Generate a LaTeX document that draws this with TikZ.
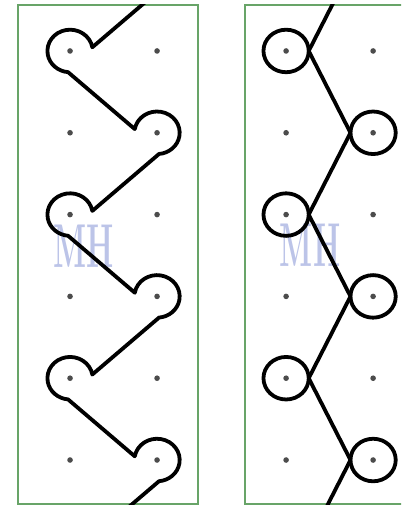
\documentclass[tikz,border=0pt]{standalone}
\usepackage{xcolor}
\usetikzlibrary{calc}
\definecolor{panelgreen}{RGB}{104,164,104}
\definecolor{markblue}{RGB}{188,196,232}
\tikzset{
  rope/.style={line width=3.8pt, line join=round, line cap=round},
  peg/.style={fill=black!70},
  panel/.style={draw=panelgreen, line width=2.2pt},
  watermark/.style={text=markblue, inner sep=0pt, xscale=0.5, font=\fontsize{62}{62}\selectfont\bfseries},
}

\begin{document}
\begin{tikzpicture}[x=87pt, y=81.8pt]
\useasboundingbox (-0.805,0.623) rectangle (3.805,-5.562);
\clip (-0.805,0.623) rectangle (3.805,-5.562);
\def\ox{2.483}
\def\rr{0.26}
% panels
\draw[panel] (-0.598,0.562) rectangle (1.466,-5.538);
\draw[panel] (2.011,0.562) rectangle (4.3,-5.538);
\node[watermark] (markL) at (0.155,-2.384) {MH};
\node[watermark] (markR) at (2.759,-2.372) {MH};
% pegs
\foreach \r in {0,...,5} {
  \fill[peg] (0,-\r) circle (2.8pt);
  \fill[peg] (1,-\r) circle (2.8pt);
  \fill[peg] (\ox,-\r) circle (2.8pt);
  \fill[peg] (\ox+1,-\r) circle (2.8pt);
}
% left: rope wound round the pegs
\begin{scope}
\clip (-0.598,0.562) rectangle (1.466,-5.538);
\draw[rope] ($(1,1)+(275:\rr)$)
  \foreach \k in {0,2,4} {
    -- ($(0,-\k)+(10:\rr)$) arc[start angle=10, end angle=265, radius=\rr]
    -- ($(1,{-\k-1})+(170:\rr)$) arc[start angle=170, end angle=-85, radius=\rr]
  } -- ($(0,-6)+(10:\rr)$);
\end{scope}
% right: zigzag touching the circles
\begin{scope}
\clip (2.011,0.562) rectangle (4.3,-5.538);
\foreach \k in {0,2,4} {
  \draw[rope] (\ox,-\k) circle (\rr);
  \draw[rope] (\ox+1,{-\k-1}) circle (\rr);
}
\draw[rope] ($(\ox+1,1)+(180:\rr)$)
  \foreach \k in {0,2,4} {
    -- ($(\ox,-\k)+(0:\rr)$) -- ($(\ox+1,{-\k-1})+(180:\rr)$)
  } -- ($(\ox,-6)+(0:\rr)$);
\end{scope}
\end{tikzpicture}
\end{document}
